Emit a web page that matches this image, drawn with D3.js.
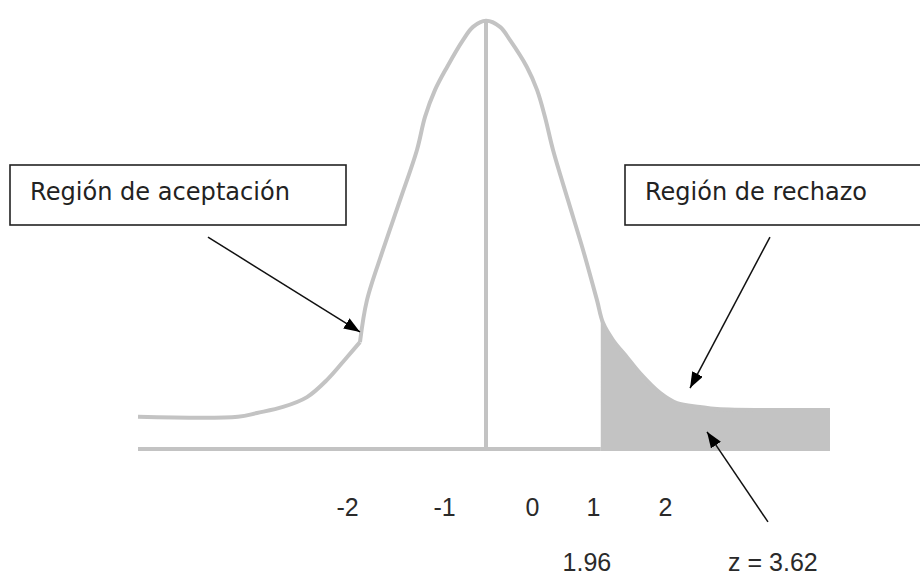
<!DOCTYPE html>
<html>
<head>
<meta charset="utf-8">
<script src="https://cdn.jsdelivr.net/npm/d3@7"></script>
<style>
body { margin: 0; background: #fff; }
</style>
</head>
<body>
<div id="chart"></div>
<script>
// curve: position in drawing units and relative height
var curveZ = [-4.00, -2.844, -2.624, -2.324, -2.046, -1.815, -1.584, -1.434, -1.353, -1.168,
              -0.971, -0.775, -0.682, -0.566, -0.428, -0.243, -0.127, 0.023, 0.185, 0.301,
              0.497, 0.613, 0.705, 0.798, 0.971, 1.145, 1.306, 1.376, 1.491, 1.653,
              1.803, 2.035, 2.231, 2.497, 2.694, 4.00];
var curveV = [0.075, 0.075, 0.084, 0.098, 0.121, 0.161, 0.214, 0.249, 0.347, 0.464,
              0.580, 0.697, 0.774, 0.837, 0.890, 0.953, 0.984, 0.998, 0.984, 0.953,
              0.890, 0.837, 0.774, 0.697, 0.580, 0.464, 0.347, 0.294, 0.254, 0.214,
              0.177, 0.131, 0.107, 0.098, 0.093, 0.091];
var kinkIndex = 7;         // the hand drawn curve has a corner here

var tickValues = [-2, -1, 0, 1, 2];
var critZ = 1.35;          // where the rejection region starts
var critLabel = "1.96";
var statLabel = "z = 3.62";
var acceptLabel = "Región de aceptación";
var rejectLabel = "Región de rechazo";

var width = 920, height = 577;
var grey = "#c3c3c3";

var curve = curveZ.map(function(z, i){ return {z: z, v: curveV[i]}; });

var x = d3.scaleLinear().domain([-4, 4]).range([138, 830]);
var y = d3.scaleLinear().domain([0, 1]).range([449, 20]);
// the tick labels in the drawing are not evenly spaced
var tickX = d3.scaleLinear().domain(tickValues).range([347, 444, 532, 593, 665]);

var svg = d3.select("#chart").append("svg")
    .attr("width", width)
    .attr("height", height)
    .style("background", "#fff");

svg.append("defs").append("marker")
    .attr("id", "head")
    .attr("markerUnits", "userSpaceOnUse")
    .attr("viewBox", "0 0 16 12")
    .attr("refX", 16).attr("refY", 6)
    .attr("markerWidth", 16).attr("markerHeight", 12)
    .attr("orient", "auto")
  .append("path")
    .attr("d", "M0,0L16,6L0,12Z")
    .attr("fill", "#000");

var line = d3.line()
    .curve(d3.curveCatmullRom.alpha(0.5))
    .x(function(d){ return x(d.z); })
    .y(function(d){ return y(d.v); });

// shaded rejection region
var vAt = d3.scaleLinear().domain(curveZ).range(curveV);
var tail = [{z: critZ, v: vAt(critZ)}].concat(curve.filter(function(d){ return d.z > critZ; }));

svg.append("path")
    .datum(tail)
    .attr("fill", grey)
    .attr("d", d3.area()
        .curve(d3.curveCatmullRom.alpha(0.5))
        .x(function(d){ return x(d.z); })
        .y0(y(0) + 2)
        .y1(function(d){ return y(d.v); }));

// baseline
svg.append("line")
    .attr("x1", x(-4)).attr("x2", x(critZ))
    .attr("y1", y(0)).attr("y2", y(0))
    .attr("stroke", grey).attr("stroke-width", 4);

// line through the peak
var peak = d3.greatest(curve, function(d){ return d.v; });
svg.append("line")
    .attr("x1", x(peak.z)).attr("x2", x(peak.z))
    .attr("y1", y(peak.v)).attr("y2", y(0))
    .attr("stroke", grey).attr("stroke-width", 4);

[curve.slice(0, kinkIndex + 1), curve.slice(kinkIndex)].forEach(function(part){
    svg.append("path")
        .datum(part)
        .attr("fill", "none")
        .attr("stroke", grey)
        .attr("stroke-width", 4)
        .attr("stroke-linejoin", "round")
        .attr("d", line);
});

// axis labels
var axis = svg.append("g")
    .attr("transform", "translate(0,495)")
    .call(d3.axisBottom(tickX).tickValues(tickValues).tickSize(0)
        .tickFormat(function(d){ return String(d); }));
axis.select(".domain").remove();
axis.selectAll("text")
    .attr("font-family", "'Liberation Sans', Arial, sans-serif")
    .attr("font-size", 25)
    .attr("fill", "#2a2a2a");

svg.append("text")
    .attr("x", x(1.19)).attr("y", 571)
    .attr("text-anchor", "middle")
    .attr("font-family", "'Liberation Sans', Arial, sans-serif")
    .attr("font-size", 25).attr("fill", "#2a2a2a")
    .text(critLabel);

svg.append("text")
    .attr("x", x(3.34)).attr("y", 571)
    .attr("text-anchor", "middle")
    .attr("font-family", "'Liberation Sans', Arial, sans-serif")
    .attr("font-size", 25).attr("fill", "#2a2a2a")
    .text(statLabel);

// label boxes
function box(x0, x1, textX, label, len) {
    svg.append("rect")
        .attr("x", x0).attr("y", 165)
        .attr("width", x1 - x0).attr("height", 60)
        .attr("fill", "#fff")
        .attr("stroke", "#222").attr("stroke-width", 1.6);
    svg.append("text")
        .attr("x", textX).attr("y", 200)
        .attr("font-family", "'DejaVu Sans', sans-serif")
        .attr("font-size", 24)
        .attr("fill", "#222")
        .attr("textLength", len)
        .attr("lengthAdjust", "spacingAndGlyphs")
        .text(label);
}
box(10, 346, 30, acceptLabel, 260);
box(625, 930, 645, rejectLabel, 222);

// arrows
function arrow(z0, v0, z1, v1) {
    svg.append("line")
        .attr("x1", x(z0)).attr("y1", y(v0))
        .attr("x2", x(z1)).attr("y2", y(v1))
        .attr("stroke", "#111").attr("stroke-width", 1.5)
        .attr("marker-end", "url(#head)");
}
arrow(-3.191, 0.494, -1.434, 0.273);
arrow(3.306, 0.494, 2.382, 0.142);
arrow(3.283, -0.170, 2.578, 0.040);
</script>
</body>
</html>
